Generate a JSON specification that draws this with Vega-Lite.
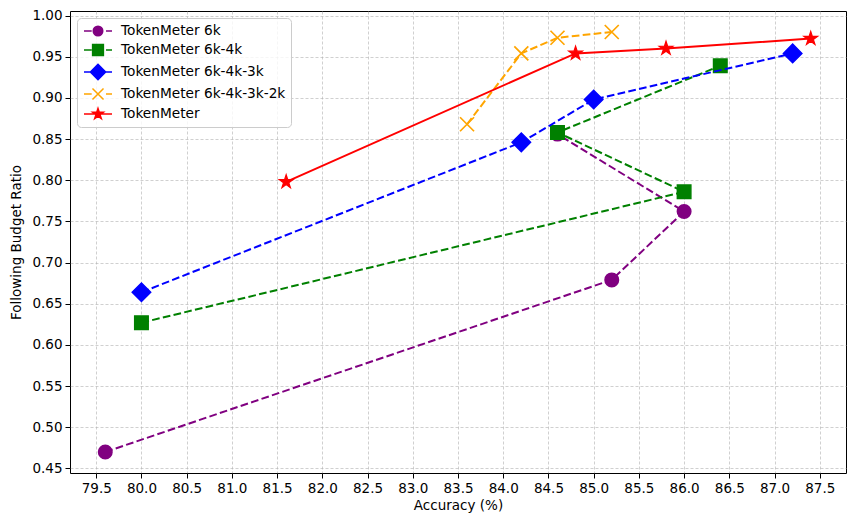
{
  "$schema": "https://vega.github.io/schema/vega-lite/v6.json",
  "width": 776,
  "height": 462,
  "autosize": {"type": "none"},
  "padding": {"left": 70, "top": 11, "right": 9, "bottom": 53},
  "background": "white",
  "config": {
    "font": "DejaVu Sans",
    "view": {"stroke": "black", "strokeWidth": 1}
  },
  "data": {
    "values": [
      {"series": "TokenMeter 6k", "step": 1, "acc": 79.6, "ratio": 0.470},
      {"series": "TokenMeter 6k", "step": 2, "acc": 85.2, "ratio": 0.679},
      {"series": "TokenMeter 6k", "step": 3, "acc": 86.0, "ratio": 0.762},
      {"series": "TokenMeter 6k", "step": 4, "acc": 84.6, "ratio": 0.856},
      {"series": "TokenMeter 6k-4k", "step": 1, "acc": 80.0, "ratio": 0.627},
      {"series": "TokenMeter 6k-4k", "step": 2, "acc": 86.0, "ratio": 0.786},
      {"series": "TokenMeter 6k-4k", "step": 3, "acc": 84.6, "ratio": 0.858},
      {"series": "TokenMeter 6k-4k", "step": 4, "acc": 86.4, "ratio": 0.939},
      {"series": "TokenMeter 6k-4k-3k", "step": 1, "acc": 80.0, "ratio": 0.664},
      {"series": "TokenMeter 6k-4k-3k", "step": 2, "acc": 84.2, "ratio": 0.846},
      {"series": "TokenMeter 6k-4k-3k", "step": 3, "acc": 85.0, "ratio": 0.898},
      {"series": "TokenMeter 6k-4k-3k", "step": 4, "acc": 87.2, "ratio": 0.954},
      {"series": "TokenMeter 6k-4k-3k-2k", "step": 1, "acc": 83.6, "ratio": 0.868},
      {"series": "TokenMeter 6k-4k-3k-2k", "step": 2, "acc": 84.2, "ratio": 0.954},
      {"series": "TokenMeter 6k-4k-3k-2k", "step": 3, "acc": 84.6, "ratio": 0.973},
      {"series": "TokenMeter 6k-4k-3k-2k", "step": 4, "acc": 85.2, "ratio": 0.980},
      {"series": "TokenMeter", "step": 1, "acc": 81.6, "ratio": 0.798},
      {"series": "TokenMeter", "step": 2, "acc": 84.8, "ratio": 0.954},
      {"series": "TokenMeter", "step": 3, "acc": 85.8, "ratio": 0.960},
      {"series": "TokenMeter", "step": 4, "acc": 87.4, "ratio": 0.972}
    ]
  },
  "encoding": {
    "x": {
      "field": "acc", "type": "quantitative",
      "scale": {"domain": [79.21, 87.79], "nice": false, "zero": false},
      "axis": {
        "title": "Accuracy (%)",
        "values": [79.5, 80, 80.5, 81, 81.5, 82, 82.5, 83, 83.5, 84, 84.5, 85, 85.5, 86, 86.5, 87, 87.5],
        "format": ".1f",
        "labelFontSize": 13.5, "titleFontSize": 13.5, "titleFontWeight": "normal",
        "labelColor": "black", "titleColor": "black",
        "tickColor": "black", "tickSize": 5, "tickWidth": 1,
        "labelPadding": 3, "titlePadding": 4,
        "domain": false, "grid": true, "gridColor": "#b0b0b0", "gridDash": [3, 2], "gridWidth": 0.6,
        "labelFlush": false, "labelOverlap": false
      }
    },
    "y": {
      "field": "ratio", "type": "quantitative",
      "scale": {"domain": [0.4445, 1.0055], "nice": false, "zero": false},
      "axis": {
        "title": "Following Budget Ratio",
        "values": [0.45, 0.5, 0.55, 0.6, 0.65, 0.7, 0.75, 0.8, 0.85, 0.9, 0.95, 1.0],
        "format": ".2f",
        "labelFontSize": 13.5, "titleFontSize": 13.5, "titleFontWeight": "normal",
        "labelColor": "black", "titleColor": "black",
        "tickColor": "black", "tickSize": 5, "tickWidth": 1,
        "labelPadding": 3, "titlePadding": 8,
        "domain": false, "grid": true, "gridColor": "#b0b0b0", "gridDash": [3, 2], "gridWidth": 0.6,
        "labelFlush": false, "labelOverlap": false
      }
    }
  },
  "layer": [
    {
      "transform": [{"filter": "datum.series === 'TokenMeter 6k'"}],
      "mark": {"type": "line", "color": "#800080", "strokeWidth": 2, "strokeDash": [7.7, 3.3]},
      "encoding": {"order": {"field": "step", "type": "quantitative"}}
    },
    {
      "transform": [{"filter": "datum.series === 'TokenMeter 6k'"}],
      "mark": {"type": "point", "shape": "circle", "filled": true, "fill": "#800080", "stroke": "#800080", "strokeWidth": 1.4, "size": 185, "opacity": 1}
    },
    {
      "transform": [{"filter": "datum.series === 'TokenMeter 6k-4k'"}],
      "mark": {"type": "line", "color": "#008000", "strokeWidth": 2, "strokeDash": [7.7, 3.3]},
      "encoding": {"order": {"field": "step", "type": "quantitative"}}
    },
    {
      "transform": [{"filter": "datum.series === 'TokenMeter 6k-4k'"}],
      "mark": {"type": "point", "shape": "square", "filled": true, "fill": "#008000", "stroke": "#008000", "strokeWidth": 1.4, "size": 185, "opacity": 1}
    },
    {
      "transform": [{"filter": "datum.series === 'TokenMeter 6k-4k-3k'"}],
      "mark": {"type": "line", "color": "#0000ff", "strokeWidth": 2, "strokeDash": [7.7, 3.3]},
      "encoding": {"order": {"field": "step", "type": "quantitative"}}
    },
    {
      "transform": [{"filter": "datum.series === 'TokenMeter 6k-4k-3k'"}],
      "mark": {"type": "point", "shape": "diamond", "filled": true, "fill": "#0000ff", "stroke": "#0000ff", "strokeWidth": 1.4, "size": 346, "opacity": 1}
    },
    {
      "transform": [{"filter": "datum.series === 'TokenMeter 6k-4k-3k-2k'"}],
      "mark": {"type": "line", "color": "#ffa500", "strokeWidth": 2, "strokeDash": [7.7, 3.3]},
      "encoding": {"order": {"field": "step", "type": "quantitative"}}
    },
    {
      "transform": [{"filter": "datum.series === 'TokenMeter 6k-4k-3k-2k'"}],
      "mark": {"type": "point", "shape": "M-1,-1L1,1M1,-1L-1,1", "filled": false, "stroke": "#ffa500", "strokeWidth": 1.7, "size": 196, "opacity": 1}
    },
    {
      "transform": [{"filter": "datum.series === 'TokenMeter'"}],
      "mark": {"type": "line", "color": "#ff0000", "strokeWidth": 2},
      "encoding": {"order": {"field": "step", "type": "quantitative"}}
    },
    {
      "transform": [{"filter": "datum.series === 'TokenMeter'"}],
      "mark": {"type": "point", "shape": "M0,-1L0.224,-0.309L0.951,-0.309L0.363,0.118L0.588,0.809L0,0.382L-0.588,0.809L-0.363,0.118L-0.951,-0.309L-0.224,-0.309Z", "filled": true, "fill": "#ff0000", "stroke": "#ff0000", "strokeWidth": 1.2, "size": 207, "opacity": 1}
    },
    {
      "transform": [{"filter": "datum.ratio > 2"}],
      "mark": {"type": "point", "filled": true, "opacity": 1, "strokeWidth": 1.5},
      "encoding": {
        "fill": {
          "field": "series", "type": "nominal",
          "scale": {"domain": ["TokenMeter 6k", "TokenMeter 6k-4k", "TokenMeter 6k-4k-3k", "TokenMeter 6k-4k-3k-2k", "TokenMeter"], "range": ["#800080", "#008000", "#0000ff", "#ffa500", "#ff0000"]},
          "legend": {"title": null, "orient": "top-left", "offset": 7, "symbolSize": 196, "symbolStrokeWidth": 1.5, "labelFontSize": 13.7, "labelFont": "DejaVu Sans", "labelColor": "black", "padding": 5, "rowPadding": 2, "labelOffset": 15, "symbolOffset": 8, "fillColor": "rgba(255,255,255,0.8)", "strokeColor": "#cccccc", "cornerRadius": 4, "labelLimit": 0}
        },
        "stroke": {
          "field": "series", "type": "nominal",
          "scale": {"domain": ["TokenMeter 6k", "TokenMeter 6k-4k", "TokenMeter 6k-4k-3k", "TokenMeter 6k-4k-3k-2k", "TokenMeter"], "range": ["#800080", "#008000", "#0000ff", "#ffa500", "#ff0000"]},
          "legend": {"title": null, "orient": "top-left", "offset": 7, "symbolSize": 196, "symbolStrokeWidth": 1.5, "labelFontSize": 13.7, "labelFont": "DejaVu Sans", "labelColor": "black", "padding": 5, "rowPadding": 2, "labelOffset": 15, "symbolOffset": 8, "fillColor": "rgba(255,255,255,0.8)", "strokeColor": "#cccccc", "cornerRadius": 4, "labelLimit": 0}
        },
        "shape": {
          "field": "series", "type": "nominal",
          "scale": {"domain": ["TokenMeter 6k", "TokenMeter 6k-4k", "TokenMeter 6k-4k-3k", "TokenMeter 6k-4k-3k-2k", "TokenMeter"], "range": [
            "M-2,0H-0.9M1.14,0H2M-0.68,0A0.68,0.68,0,1,1,0.68,0A0.68,0.68,0,1,1,-0.68,0Z",
            "M-2,0H-0.9M1.14,0H2M-0.77,-0.77H0.77V0.77H-0.77Z",
            "M-2,0H-0.9M1.14,0H2M-1.09,0L0,-1.09L1.09,0L0,1.09Z",
            "M-2,0H-0.9M1.14,0H2M-0.79,-0.79L0.79,0.79M0.79,-0.79L-0.79,0.79",
            "M-2,0H2M0,-0.8L0.179,-0.247L0.761,-0.247L0.29,0.094L0.47,0.647L0,0.306L-0.47,0.647L-0.29,0.094L-0.761,-0.247L-0.179,-0.247Z"
          ]},
          "legend": {"title": null, "orient": "top-left", "offset": 7, "symbolSize": 196, "symbolStrokeWidth": 1.5, "labelFontSize": 13.7, "labelFont": "DejaVu Sans", "labelColor": "black", "padding": 5, "rowPadding": 2, "labelOffset": 15, "symbolOffset": 8, "fillColor": "rgba(255,255,255,0.8)", "strokeColor": "#cccccc", "cornerRadius": 4, "labelLimit": 0}
        }
      }
    }
  ]
}
